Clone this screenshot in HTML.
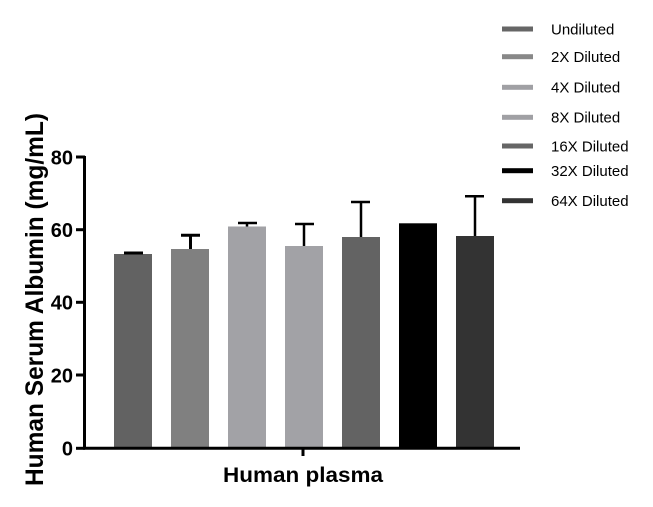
<!DOCTYPE html>
<html>
<head>
<meta charset="utf-8">
<style>
  html, body { margin: 0; padding: 0; background: #ffffff; }
  svg { display: block; }
</style>
</head>
<body>
<svg width="653" height="507" viewBox="0 0 653 507" xmlns="http://www.w3.org/2000/svg">
  <rect width="653" height="507" fill="#ffffff"/>

  <!-- Bars -->
  <rect x="114" y="254" width="38" height="194" fill="#626262"/>
  <rect x="171" y="249" width="38" height="199" fill="#808080"/>
  <rect x="228" y="226.5" width="38" height="221.5" fill="#a2a2a6"/>
  <rect x="285" y="246" width="38" height="202" fill="#a2a2a6"/>
  <rect x="342" y="237" width="38" height="211" fill="#636363"/>
  <rect x="399" y="223.3" width="38" height="224.7" fill="#000000"/>
  <rect x="456" y="236" width="38" height="212" fill="#333333"/>

  <!-- Error bars -->
  <g stroke="#000" fill="none">
    <line x1="124" y1="253" x2="143" y2="253" stroke-width="3"/>

    <line x1="190.5" y1="249" x2="190.5" y2="235" stroke-width="3"/>
    <line x1="181" y1="235.2" x2="200" y2="235.2" stroke-width="3"/>

    <line x1="247" y1="226.5" x2="247" y2="223" stroke-width="2.5"/>
    <line x1="238" y1="223" x2="257" y2="223" stroke-width="2.5"/>

    <line x1="304" y1="246" x2="304" y2="224" stroke-width="2.5"/>
    <line x1="295" y1="224" x2="314" y2="224" stroke-width="2.5"/>

    <line x1="361" y1="237" x2="361" y2="202" stroke-width="2.5"/>
    <line x1="351" y1="202" x2="370" y2="202" stroke-width="2.5"/>

    <line x1="475" y1="236" x2="475" y2="196.3" stroke-width="2.5"/>
    <line x1="465" y1="196.3" x2="484" y2="196.3" stroke-width="2.5"/>
  </g>

  <!-- Axes -->
  <g stroke="#000" stroke-width="3" fill="none">
    <line x1="84.5" y1="156" x2="84.5" y2="449.5"/>
    <line x1="83" y1="448.3" x2="520" y2="448.3"/>
    <line x1="76" y1="157" x2="85" y2="157"/>
    <line x1="76" y1="229.7" x2="85" y2="229.7"/>
    <line x1="76" y1="302.3" x2="85" y2="302.3"/>
    <line x1="76" y1="375" x2="85" y2="375"/>
    <line x1="76" y1="448.3" x2="85" y2="448.3"/>
    <line x1="303" y1="448" x2="303" y2="456"/>
  </g>

  <!-- Y tick labels -->
  <g font-family="'Liberation Sans', sans-serif" font-weight="bold" font-size="20" fill="#000" text-anchor="end">
    <text x="73" y="164.5">80</text>
    <text x="73" y="237">60</text>
    <text x="73" y="309.5">40</text>
    <text x="73" y="382.5">20</text>
    <text x="73" y="455.5">0</text>
  </g>

  <!-- Y axis title -->
  <text transform="translate(43,486) rotate(-90)" x="0" y="0"
        font-family="'Liberation Sans', sans-serif" font-weight="bold" font-size="25" fill="#000"
        textLength="373" lengthAdjust="spacingAndGlyphs">Human Serum Albumin (mg/mL)</text>

  <!-- X axis label -->
  <text x="223" y="482" font-family="'Liberation Sans', sans-serif" font-weight="bold" font-size="21" fill="#000"
        textLength="160" lengthAdjust="spacingAndGlyphs">Human plasma</text>

  <!-- Legend -->
  <g>
    <rect x="502" y="26.5" width="31" height="5" fill="#666666"/>
    <rect x="502" y="54.2" width="31" height="5" fill="#888888"/>
    <rect x="502" y="84.8" width="31" height="5" fill="#a0a0a4"/>
    <rect x="502" y="114.8" width="31" height="5" fill="#a0a0a4"/>
    <rect x="502" y="143.5" width="31" height="5" fill="#666666"/>
    <rect x="502" y="168.2" width="31" height="5" fill="#000000"/>
    <rect x="502" y="198.2" width="31" height="5" fill="#333333"/>
  </g>
  <g font-family="'Liberation Sans', sans-serif" font-size="15" fill="#000">
    <text x="551" y="34.5">Undiluted</text>
    <text x="551" y="62">2X Diluted</text>
    <text x="551" y="92.5">4X Diluted</text>
    <text x="551" y="122.5">8X Diluted</text>
    <text x="551" y="151.5">16X Diluted</text>
    <text x="551" y="176">32X Diluted</text>
    <text x="551" y="206">64X Diluted</text>
  </g>
</svg>
</body>
</html>
